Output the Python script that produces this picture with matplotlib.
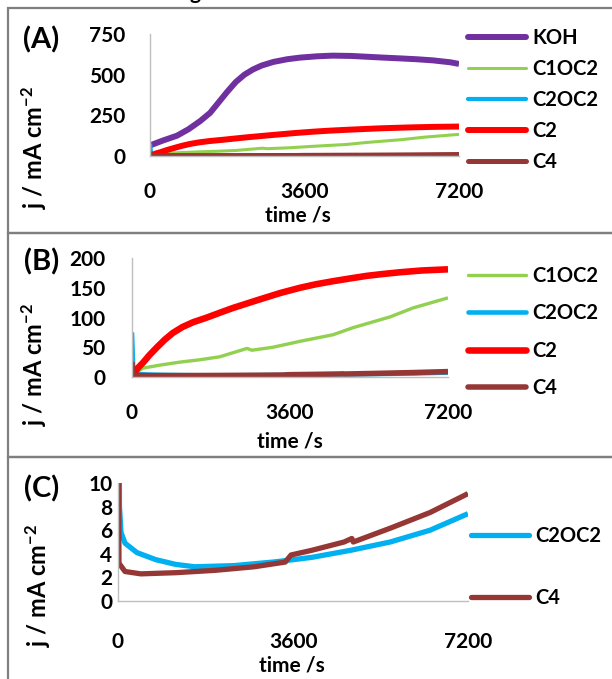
import matplotlib
matplotlib.use("Agg")
import matplotlib.pyplot as plt
from matplotlib.patches import Rectangle

plt.rcParams['font.family'] = ['Lato', 'DejaVu Sans']
plt.rcParams['font.weight'] = 'bold'
plt.rcParams['mathtext.fontset'] = 'custom'
plt.rcParams['mathtext.rm'] = 'Lato:bold'
plt.rcParams['mathtext.bf'] = 'Lato:bold'
plt.rcParams['mathtext.default'] = 'bf'

# ---------------- data ----------------
x_ticks = [0, 3600, 7200]
x_tick_labels = ["0", "3600", "7200"]

t_koh = [0, 300, 630, 900, 1170, 1400, 1600, 1800, 2000, 2200, 2400, 2600, 2870,
         3200, 3500, 3900, 4260, 4700, 5060, 5430, 5830, 6200, 6590, 7000, 7200]
j_koh = [65, 95, 125, 165, 215, 265, 330, 395, 455, 500, 532, 556, 578,
         595, 605, 613, 617, 615, 610, 605, 600, 595, 588, 576, 566]

t_c1oc2 = [0, 110, 250, 640, 1090, 1550, 2000, 2620, 2730, 3210, 3830, 4580,
           5040, 5880, 6400, 7200]
j_c1oc2 = [8, 8, 15, 20, 25, 29, 34, 48, 45, 50, 60, 71, 83, 101, 116, 133]

t_c2oc2 = [0, 30, 62, 144, 390, 780, 1190, 1580, 2390, 3190, 3600, 3990,
           4790, 5600, 6420, 7200]
j_c2oc2 = [75, 8, 5.8, 4.9, 4.1, 3.5, 3.1, 2.9, 3.0, 3.3, 3.5, 3.7,
           4.3, 5.0, 6.0, 7.4]

t_c2 = [0, 70, 120, 250, 400, 570, 750, 930, 1150, 1390, 1710, 2000, 2300,
        2850, 3370, 3830, 4200, 4580, 5000, 5350, 5700, 6100, 6600, 7200]
j_c2 = [5, 8, 14, 24, 37, 50, 63, 74, 84, 92, 100, 108, 116,
        129, 141, 150, 156, 161, 166, 170, 173, 176, 179, 181]

t_c4 = [0, 20, 144, 470, 1190, 2000, 2800, 3440, 3560, 3990, 4650, 4810,
        4840, 5620, 6420, 7200]
j_c4 = [25, 3.2, 2.5, 2.3, 2.4, 2.6, 2.9, 3.3, 3.9, 4.3, 5.0, 5.3,
        5.0, 6.2, 7.5, 9.1]

yticks_a = [0, 250, 500, 750]
yticks_b = [0, 50, 100, 150, 200]
yticks_c = [0, 2, 4, 6, 8, 10]

series = {
    "KOH": (t_koh, j_koh),
    "C1OC2": (t_c1oc2, j_c1oc2),
    "C2OC2": (t_c2oc2, j_c2oc2),
    "C2": (t_c2, j_c2),
    "C4": (t_c4, j_c4),
}
colors = {"KOH": "#7030A0", "C1OC2": "#92D050", "C2OC2": "#00B0F0",
          "C2": "#FF0000", "C4": "#953735"}
widths = {"KOH": 4.3, "C1OC2": 2.2, "C2OC2": 3.0, "C2": 4.3, "C4": 3.6}

# ---------------- figure ----------------
W, H = 612, 679
fig = plt.figure(figsize=(W / 100, H / 100), dpi=100)


def rect(l, r, b, t):
    return [l / W, 1 - b / H, (r - l) / W, (b - t) / H]


def fx(x):
    return x / W


def fy(y):
    return 1 - y / H


# panel borders
for top, bot in [(8, 233), (233, 457), (457, 690)]:
    fig.add_artist(Rectangle((fx(8), fy(bot)), fx(700) - fx(8), fy(top) - fy(bot),
                             transform=fig.transFigure, fill=False,
                             edgecolor="#7F7F7F", linewidth=1.6, zorder=0))

# clipped title fragment at the very top
fig.text(fx(190), fy(-1), "g", fontsize=15, fontweight='bold', va='baseline', ha='left')

panels = [
    dict(name="(A)", box=rect(150, 459, 156, 34), ylim=(0, 750), yticks=yticks_a,
         names=["KOH", "C1OC2", "C2OC2", "C2", "C4"], lab=(41, 40), ylab=(34, 147),
         xlab=(298, 215), xpad=18.5, ypad=18, leg=(468, 100), lspacing=0.55,
         lw_scale=1.0),
    dict(name="(B)", box=rect(132, 448, 377, 258), ylim=(0, 200), yticks=yticks_b,
         names=["C1OC2", "C2OC2", "C2", "C4"], lab=(42, 262), ylab=(34, 364),
         xlab=(290, 442), xpad=18.5, ypad=19, leg=(468, 332), lspacing=0.85,
         lw_scale=1.1),
    dict(name="(C)", box=rect(118, 468, 601, 483), ylim=(0, 10), yticks=yticks_c,
         names=["C2OC2", "C4"], lab=(42, 489), ylab=(38, 585),
         xlab=(292, 666), xpad=22, ypad=4, leg=(471, 567), lspacing=2.1,
         lw_scale=1.0),
]

for p in panels:
    ax = fig.add_axes(p["box"])
    for nm in p["names"]:
        t, j = series[nm]
        lw = widths[nm] * p["lw_scale"]
        if p["name"] == "(C)":
            lw = 3.8
        ax.plot(t, j, color=colors[nm], lw=lw, label=nm, solid_capstyle='butt',
                solid_joinstyle='round')
    ax.set_xlim(0, 7200)
    ax.set_ylim(*p["ylim"])
    ax.set_xticks(x_ticks)
    ax.set_xticklabels(x_tick_labels)
    ax.set_yticks(p["yticks"])
    ax.tick_params(length=0, labelsize=15)
    ax.tick_params(axis='x', pad=p["xpad"])
    ax.tick_params(axis='y', pad=p["ypad"])
    for s in ["top", "right"]:
        ax.spines[s].set_visible(False)
    for s in ["left", "bottom"]:
        ax.spines[s].set_color("#BFBFBF")
        ax.spines[s].set_linewidth(1.0)
    ax.patch.set_alpha(0)

    fig.text(fx(p["lab"][0]), fy(p["lab"][1]), p["name"], fontsize=21,
             fontweight='bold', ha='center', va='center')
    fig.text(fx(p["ylab"][0]), fy(p["ylab"][1]), r"j / mA cm$^{-2}$", fontsize=17,
             fontweight='bold', rotation=90, ha='center', va='center')
    fig.text(fx(p["xlab"][0]), fy(p["xlab"][1]), "time /s", fontsize=15,
             fontweight='bold', ha='center', va='center')

    leg = ax.legend(loc='center left', bbox_to_anchor=(fx(p["leg"][0]), fy(p["leg"][1])),
                    bbox_transform=fig.transFigure, frameon=False, fontsize=14.5,
                    handlelength=2.9, handletextpad=0.3, labelspacing=p["lspacing"],
                    borderpad=0, borderaxespad=0)
    for line in leg.get_lines():
        line.set_solid_capstyle('round')

fig.savefig("out.png", dpi=100)
